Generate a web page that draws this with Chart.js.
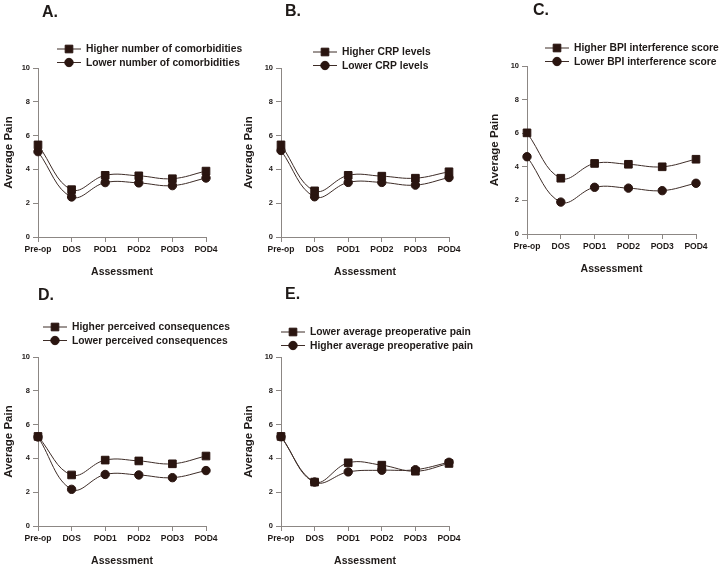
<!DOCTYPE html>
<html>
<head>
<meta charset="utf-8">
<script src="https://cdn.jsdelivr.net/npm/chart.js@4.4.0/dist/chart.umd.min.js"></script>
<style>
  html, body { margin: 0; padding: 0; background: #fff; overflow: hidden; }
  body { width: 719px; height: 564px; position: relative; }
  canvas { position: absolute; }
</style>
</head>
<body>
<canvas id="chartA"></canvas>
<canvas id="chartB"></canvas>
<canvas id="chartC"></canvas>
<canvas id="chartD"></canvas>
<canvas id="chartE"></canvas>
<script>
// data
const assessments = ['Pre-op', 'DOS', 'POD1', 'POD2', 'POD3', 'POD4'];
const painTicks = [0, 2, 4, 6, 8, 10];

const comorbHigher = [5.45, 2.8, 3.65, 3.62, 3.45, 3.9];
const comorbLower = [5.05, 2.37, 3.22, 3.2, 3.04, 3.49];
const crpHigher = [5.45, 2.73, 3.65, 3.6, 3.48, 3.86];
const crpLower = [5.12, 2.38, 3.23, 3.23, 3.07, 3.52];
const bpiHigher = [6.02, 3.32, 4.2, 4.15, 4.0, 4.45];
const bpiLower = [4.6, 1.9, 2.78, 2.73, 2.58, 3.02];
const consqHigher = [5.3, 3.02, 3.9, 3.85, 3.68, 4.14];
const consqLower = [5.27, 2.17, 3.05, 3.02, 2.86, 3.28];
const prePainLower = [5.3, 2.6, 3.74, 3.6, 3.24, 3.7];
const prePainHigher = [5.28, 2.6, 3.2, 3.3, 3.33, 3.77];

const labelsA = ['Higher number of comorbidities', 'Lower number of comorbidities'];
const labelsB = ['Higher CRP levels', 'Lower CRP levels'];
const labelsC = ['Higher BPI interference score', 'Lower BPI interference score'];
const labelsD = ['Higher perceived consequences', 'Lower perceived consequences'];
const labelsE = ['Lower average preoperative pain', 'Higher average preoperative pain'];

// styles
const markColor = '#2a1510';
const lineColor = '#3d2c27';
const axisColor = '#8c8784';
const textColor = '#1f1a18';
const fontFamily = '"Liberation Sans", Arial, sans-serif';

// layout of the five panels (canvas coords)
const panels = [
  { id: 'chartA', letter: 'A.', x: 0, y: 0, w: 260, h: 280, padL: 0, padT: 68, padR: 54, yWidth: 38,
    legX: 69, legY: 49, letX: 42, letY: 13, series: [comorbHigher, comorbLower], labels: labelsA },
  { id: 'chartB', letter: 'B.', x: 240, y: 0, w: 260, h: 280, padL: 0, padT: 68, padR: 51, yWidth: 41,
    legX: 85, legY: 52, letX: 45, letY: 12, series: [crpHigher, crpLower], labels: labelsB },
  { id: 'chartC', letter: 'C.', x: 480, y: 0, w: 239, h: 277, padL: 6, padT: 66, padR: 23, yWidth: 41,
    legX: 77, legY: 48, letX: 53, letY: 11, series: [bpiHigher, bpiLower], labels: labelsC },
  { id: 'chartD', letter: 'D.', x: 0, y: 280, w: 260, h: 289, padL: 0, padT: 77, padR: 54, yWidth: 38,
    legX: 55, legY: 47, letX: 38, letY: 16, series: [consqHigher, consqLower], labels: labelsD },
  { id: 'chartE', letter: 'E.', x: 240, y: 280, w: 260, h: 289, padL: 0, padT: 77, padR: 51, yWidth: 41,
    legX: 53, legY: 52, letX: 45, letY: 15, series: [prePainLower, prePainHigher], labels: labelsE }
];

const pointStyles = ['rect', 'circle'];
const pointSizes = [5.4, 4.2];

function drawLegendRow(ctx, x, y, style, radius, text) {
  ctx.save();
  ctx.strokeStyle = lineColor;
  ctx.lineWidth = 1;
  ctx.beginPath();
  ctx.moveTo(x - 12, y);
  ctx.lineTo(x + 12, y);
  ctx.stroke();
  ctx.fillStyle = markColor;
  ctx.strokeStyle = markColor;
  Chart.helpers.drawPoint(ctx, { pointStyle: style, radius: radius, borderWidth: 1, rotation: 0 }, x, y);
  ctx.fillStyle = textColor;
  ctx.font = 'bold 10.3px ' + fontFamily;
  ctx.textBaseline = 'middle';
  ctx.textAlign = 'left';
  ctx.fillText(text, x + 17, y + 0.5);
  ctx.restore();
}

panels.forEach(function (p) {
  const canvas = document.getElementById(p.id);
  canvas.width = p.w;
  canvas.height = p.h;
  canvas.style.left = p.x + 'px';
  canvas.style.top = p.y + 'px';

  const decor = {
    id: 'decor',
    afterDraw: function (chart) {
      const ctx = chart.ctx;
      ctx.save();
      ctx.fillStyle = textColor;
      ctx.font = 'bold 16px ' + fontFamily;
      ctx.textBaseline = 'middle';
      ctx.fillText(p.letter, p.letX, p.letY);
      ctx.restore();
      p.labels.forEach(function (t, i) {
        drawLegendRow(ctx, p.legX, p.legY + i * 13.5, pointStyles[i], pointSizes[i], t);
      });
    }
  };

  new Chart(canvas, {
    type: 'line',
    data: {
      labels: assessments,
      datasets: p.series.map(function (vals, i) {
        return {
          label: p.labels[i],
          data: vals,
          borderColor: lineColor,
          borderWidth: 1,
          tension: 0.4,
          fill: false,
          pointStyle: pointStyles[i],
          pointRadius: pointSizes[i],
          pointBackgroundColor: markColor,
          pointBorderColor: markColor,
          pointBorderWidth: 1
        };
      })
    },
    options: {
      responsive: false,
      animation: false,
      devicePixelRatio: 1,
      layout: { padding: { left: p.padL, top: p.padT, right: p.padR, bottom: 0 } },
      plugins: { legend: { display: false }, tooltip: { enabled: false } },
      scales: {
        x: {
          offset: false,
          grid: { drawOnChartArea: false, drawTicks: true, tickLength: 5, color: axisColor },
          border: { display: true, color: axisColor, width: 1 },
          ticks: { color: textColor, font: { family: fontFamily, size: 8.5, weight: 'bold' }, padding: 3, maxRotation: 0, autoSkip: false },
          title: { display: true, text: 'Assessment', color: textColor, font: { family: fontFamily, size: 10.5, weight: 'bold' }, padding: { top: 4, bottom: 2 } },
          afterFit: function (scale) { scale.height = 43; }
        },
        y: {
          min: 0,
          max: 10,
          afterBuildTicks: function (scale) { scale.ticks = painTicks.map(function (v) { return { value: v }; }); },
          grid: { drawOnChartArea: false, drawTicks: true, tickLength: 5, color: axisColor },
          border: { display: true, color: axisColor, width: 1 },
          ticks: { color: textColor, font: { family: fontFamily, size: 7.5, weight: 'bold' }, padding: 3 },
          title: { display: true, text: 'Average Pain', color: textColor, font: { family: fontFamily, size: 11.5, weight: 'bold' }, padding: { top: 2, bottom: 2 } },
          afterFit: function (scale) { scale.width = p.yWidth; }
        }
      }
    },
    plugins: [decor]
  });
});
</script>
</body>
</html>
